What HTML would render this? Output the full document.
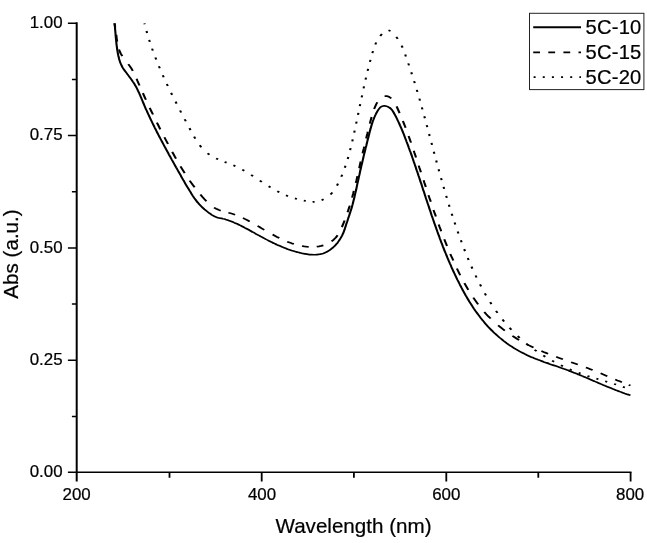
<!DOCTYPE html>
<html lang="en">
<head>
<meta charset="utf-8">
<title>Abs vs Wavelength</title>
<style>
html,body{margin:0;padding:0;background:#fff;}
body{width:647px;height:543px;overflow:hidden;}
svg{display:block;}
text{font-family:"Liberation Sans",Arial,Helvetica,sans-serif;fill:#000;stroke:#000;stroke-width:0.22px;stroke-linejoin:round;}
.axis path{stroke:#000;fill:none;stroke-linecap:butt;}
.axis .v{stroke-width:2;}
.axis .h{stroke-width:1.5;}
.axis .t{stroke-width:1.8;}
.tick text{font-size:16.9px;}
.title{font-size:20.6px;}
.legend text{font-size:20.2px;letter-spacing:0.2px;}
.curve{fill:none;stroke:#000;stroke-width:2.1;stroke-linejoin:round;}
.legend .leg{stroke-width:2;}
.legend .thin{stroke-width:1.7;}
</style>
</head>
<body>
<svg width="647" height="543" viewBox="0 0 647 543">
<rect width="647" height="543" fill="#fff"/>
<g class="axis">
<path class="v" d="M76.7 22.2V481.4"/>
<path class="h" d="M67.9 472.3H631.5"/>
<path class="h" d="M71.9 416.5H76.7M67.9 360.3H76.7M71.9 304.1H76.7M67.9 247.9H76.7M71.9 191.8H76.7M67.9 135.6H76.7M71.9 79.4H76.7M67.9 23.2H76.7"/>
<path class="t" d="M169.5 472.3V477.7M261.7 472.3V481.4M353.9 472.3V477.7M446.3 472.3V481.4M538.3 472.3V477.7M630.6 472.3V481.4"/>
</g>
<g class="tick"><text x="62.6" y="477.3" text-anchor="end">0.00</text><text x="62.6" y="364.9" text-anchor="end">0.25</text><text x="62.6" y="252.6" text-anchor="end">0.50</text><text x="62.6" y="140.2" text-anchor="end">0.75</text><text x="62.6" y="27.8" text-anchor="end">1.00</text><text x="76.6" y="499.7" text-anchor="middle">200</text><text x="262.0" y="499.7" text-anchor="middle">400</text><text x="446.3" y="499.7" text-anchor="middle">600</text><text x="630.1" y="499.7" text-anchor="middle">800</text></g>
<text class="title" x="353.5" y="532.8" text-anchor="middle">Wavelength (nm)</text>
<text class="title" transform="translate(17.5 254) rotate(-90)" text-anchor="middle">Abs (a.u.)</text>
<g transform="scale(1 0.8)">
<path class="curve" d="M114.6 29.1C114.6 29.7 114.8 31.6 114.9 32.9C115 34.1 115.1 35.3 115.1 36.6C115.2 37.8 115.3 39.1 115.4 40.3C115.5 41.6 115.6 42.8 115.6 44.1C115.7 45.3 115.8 46.5 115.9 47.8C116 49 116.1 50.3 116.2 51.5C116.3 52.8 116.4 54 116.5 55.2C116.6 56.5 116.8 57.7 116.9 59C117 60.2 117.2 61.4 117.3 62.7C117.5 63.9 117.7 65.1 117.8 66.4C118 67.6 118.2 68.8 118.4 70C118.7 71.2 118.9 72.5 119.1 73.7C119.4 74.9 119.7 76.1 120 77.3C120.3 78.4 120.7 79.6 121.1 80.7C121.5 81.9 122 83 122.5 84.1C123 85.1 123.6 86.2 124.1 87.2C124.7 88.2 125.3 89.2 125.9 90.2C126.5 91.2 127.1 92.2 127.7 93.2C128.3 94.2 129 95.2 129.5 96.2C130.1 97.2 130.7 98.2 131.3 99.2C131.9 100.2 132.5 101.2 133 102.3C133.6 103.3 134.1 104.4 134.6 105.4C135.1 106.5 135.6 107.6 136.1 108.7C136.6 109.8 137 110.9 137.5 112C137.9 113.1 138.3 114.3 138.8 115.4C139.2 116.5 139.6 117.7 140 118.8C140.4 120 140.8 121.1 141.2 122.3C141.5 123.4 141.9 124.6 142.3 125.7C142.7 126.9 143.1 128 143.5 129.2C143.9 130.3 144.2 131.5 144.6 132.6C145 133.8 145.4 134.9 145.8 136.1C146.3 137.2 146.7 138.4 147.1 139.5C147.5 140.6 147.9 141.8 148.3 142.9C148.7 144 149.2 145.2 149.6 146.3C150 147.4 150.4 148.6 150.9 149.7C151.3 150.8 151.7 151.9 152.2 153.1C152.6 154.2 153 155.3 153.5 156.4C153.9 157.5 154.4 158.7 154.8 159.8C155.3 160.9 155.7 162 156.2 163.1C156.6 164.2 157.1 165.3 157.5 166.5C158 167.6 158.4 168.7 158.9 169.8C159.4 170.9 159.8 172 160.3 173.1C160.8 174.2 161.2 175.3 161.7 176.4C162.2 177.5 162.6 178.6 163.1 179.7C163.6 180.8 164.1 181.9 164.5 183C165 184.1 165.5 185.2 166 186.3C166.4 187.4 166.9 188.5 167.4 189.6C167.9 190.7 168.4 191.8 168.8 192.9C169.3 194 169.8 195.1 170.3 196.2C170.8 197.3 171.3 198.3 171.7 199.4C172.2 200.5 172.7 201.6 173.2 202.7C173.7 203.8 174.2 204.9 174.7 206C175.2 207.1 175.7 208.2 176.1 209.2C176.6 210.3 177.1 211.4 177.6 212.5C178.1 213.6 178.6 214.7 179.1 215.8C179.6 216.9 180.1 218 180.6 219C181 220.1 181.5 221.2 182 222.3C182.5 223.4 183 224.5 183.5 225.6C184 226.6 184.5 227.7 185 228.8C185.5 229.9 186 231 186.5 232C187 233.1 187.6 234.2 188.1 235.2C188.6 236.3 189.1 237.4 189.6 238.4C190.2 239.5 190.7 240.6 191.2 241.6C191.7 242.7 192.3 243.7 192.8 244.8C193.4 245.8 193.9 246.9 194.5 247.9C195.1 248.9 195.7 249.9 196.3 250.9C196.9 251.9 197.5 252.9 198.2 253.8C198.8 254.7 199.5 255.7 200.2 256.6C200.9 257.5 201.6 258.4 202.3 259.2C203.1 260.1 203.8 260.9 204.5 261.7C205.3 262.5 206.1 263.3 206.9 264.1C207.6 264.9 208.4 265.6 209.3 266.4C210.1 267.1 210.9 267.8 211.7 268.5C212.6 269.2 213.4 269.8 214.3 270.4C215.2 270.9 216.1 271.4 217.1 271.8C218 272.2 219 272.4 220 272.7C221 272.9 222 273.1 222.9 273.4C223.9 273.6 224.9 273.9 225.8 274.3C226.8 274.7 227.7 275.1 228.7 275.5C229.6 275.9 230.6 276.4 231.5 276.8C232.4 277.3 233.3 277.8 234.2 278.3C235.2 278.8 236.1 279.3 237 279.8C237.9 280.3 238.8 280.9 239.7 281.4C240.6 282 241.5 282.5 242.4 283.1C243.2 283.7 244.1 284.3 245 284.9C245.9 285.4 246.8 286 247.7 286.6C248.5 287.2 249.4 287.8 250.3 288.4C251.2 289 252 289.6 252.9 290.2C253.8 290.8 254.7 291.4 255.5 292.1C256.4 292.7 257.3 293.3 258.2 293.9C259 294.5 259.9 295.1 260.8 295.7C261.7 296.2 262.5 296.8 263.4 297.4C264.3 298 265.2 298.6 266.1 299.2C267 299.7 267.9 300.3 268.7 300.9C269.6 301.4 270.5 302 271.4 302.6C272.3 303.1 273.2 303.7 274.1 304.2C275 304.7 275.9 305.3 276.8 305.8C277.8 306.3 278.7 306.8 279.6 307.3C280.5 307.8 281.4 308.3 282.3 308.8C283.3 309.2 284.2 309.7 285.1 310.1C286.1 310.6 287 311 287.9 311.5C288.9 311.9 289.8 312.3 290.8 312.7C291.7 313.1 292.7 313.5 293.6 313.8C294.6 314.2 295.5 314.5 296.5 314.9C297.5 315.2 298.4 315.5 299.4 315.8C300.4 316.1 301.3 316.4 302.3 316.7C303.3 316.9 304.3 317.2 305.3 317.4C306.2 317.6 307.2 317.8 308.2 317.9C309.2 318.1 310.2 318.2 311.2 318.3C312.2 318.4 313.2 318.4 314.2 318.4C315.2 318.4 316.2 318.3 317.2 318.2C318.2 318.1 319.2 317.9 320.2 317.7C321.1 317.4 322.1 317.1 323.1 316.8C324 316.4 324.9 315.9 325.9 315.4C326.8 314.9 327.6 314.3 328.5 313.6C329.4 313 330.2 312.3 331 311.5C331.8 310.8 332.5 310 333.3 309.1C334 308.3 334.7 307.4 335.4 306.5C336.1 305.6 336.7 304.6 337.4 303.7C338 302.7 338.6 301.7 339.1 300.6C339.7 299.6 340.2 298.6 340.7 297.5C341.2 296.4 341.7 295.3 342.2 294.2C342.6 293.1 343 291.9 343.4 290.8C343.8 289.6 344.1 288.4 344.5 287.3C344.8 286.1 345.1 284.9 345.4 283.7C345.7 282.5 346 281.3 346.3 280.1C346.6 279 346.9 277.8 347.3 276.6C347.6 275.4 347.9 274.2 348.2 273C348.5 271.8 348.9 270.7 349.2 269.5C349.5 268.3 349.8 267.1 350.1 265.9C350.4 264.7 350.7 263.6 351 262.4C351.3 261.2 351.6 260 351.9 258.8C352.2 257.6 352.4 256.4 352.7 255.2C352.9 253.9 353.2 252.7 353.4 251.5C353.7 250.3 353.9 249.1 354.2 247.9C354.4 246.7 354.6 245.5 354.8 244.2C355.1 243 355.3 241.8 355.5 240.6C355.7 239.4 355.9 238.2 356.2 236.9C356.4 235.7 356.6 234.5 356.8 233.3C357 232.1 357.2 230.8 357.4 229.6C357.6 228.4 357.8 227.2 358.1 225.9C358.3 224.7 358.5 223.5 358.7 222.3C358.9 221.1 359.1 219.8 359.4 218.6C359.6 217.4 359.8 216.2 360 215C360.2 213.8 360.4 212.5 360.7 211.3C360.9 210.1 361.1 208.9 361.3 207.7C361.6 206.5 361.8 205.2 362 204C362.3 202.8 362.5 201.6 362.7 200.4C362.9 199.2 363.2 197.9 363.4 196.7C363.6 195.5 363.9 194.3 364.1 193.1C364.3 191.9 364.6 190.7 364.8 189.4C365.1 188.2 365.3 187 365.5 185.8C365.8 184.6 366 183.4 366.3 182.2C366.5 181 366.7 179.7 367 178.5C367.2 177.3 367.5 176.1 367.7 174.9C367.9 173.7 368.2 172.5 368.4 171.3C368.7 170.1 368.9 168.8 369.2 167.6C369.4 166.4 369.7 165.2 369.9 164C370.2 162.8 370.4 161.6 370.7 160.4C370.9 159.2 371.2 158 371.5 156.8C371.8 155.6 372.1 154.4 372.4 153.2C372.7 152 373 150.8 373.4 149.7C373.7 148.5 374.1 147.3 374.5 146.2C374.9 145 375.3 143.9 375.8 142.8C376.2 141.7 376.7 140.6 377.2 139.5C377.7 138.4 378.2 137.3 378.8 136.4C379.5 135.4 380.1 134.4 380.9 133.7C381.7 133 382.7 132.5 383.7 132.4C384.6 132.2 385.7 132.4 386.6 132.8C387.6 133.1 388.5 133.7 389.3 134.4C390.2 135.1 390.9 136 391.6 136.9C392.2 137.8 392.8 138.9 393.3 140C393.8 141 394.3 142.1 394.8 143.2C395.3 144.3 395.7 145.4 396.2 146.5C396.6 147.6 397.1 148.8 397.5 149.9C397.9 151 398.4 152.1 398.8 153.3C399.2 154.4 399.6 155.5 400 156.7C400.4 157.8 400.8 159 401.2 160.1C401.6 161.3 402 162.4 402.4 163.6C402.8 164.7 403.1 165.9 403.5 167C403.9 168.2 404.2 169.4 404.6 170.5C405 171.7 405.3 172.9 405.7 174C406 175.2 406.4 176.4 406.7 177.5C407.1 178.7 407.4 179.9 407.8 181C408.1 182.2 408.5 183.4 408.8 184.6C409.2 185.7 409.5 186.9 409.8 188.1C410.2 189.3 410.5 190.4 410.9 191.6C411.2 192.8 411.5 194 411.9 195.1C412.2 196.3 412.5 197.5 412.9 198.7C413.2 199.8 413.5 201 413.8 202.2C414.2 203.4 414.5 204.6 414.8 205.8C415.1 206.9 415.5 208.1 415.8 209.3C416.1 210.5 416.4 211.7 416.7 212.8C417.1 214 417.4 215.2 417.7 216.4C418 217.6 418.3 218.8 418.6 220C419 221.1 419.3 222.3 419.6 223.5C419.9 224.7 420.2 225.9 420.5 227.1C420.8 228.3 421.2 229.4 421.5 230.6C421.8 231.8 422.1 233 422.4 234.2C422.7 235.4 423 236.6 423.3 237.7C423.6 238.9 424 240.1 424.3 241.3C424.6 242.5 424.9 243.7 425.2 244.9C425.5 246 425.8 247.2 426.1 248.4C426.5 249.6 426.8 250.8 427.1 252C427.4 253.2 427.7 254.4 428 255.5C428.3 256.7 428.7 257.9 429 259.1C429.3 260.3 429.6 261.5 429.9 262.6C430.2 263.8 430.6 265 430.9 266.2C431.2 267.4 431.5 268.6 431.8 269.7C432.2 270.9 432.5 272.1 432.8 273.3C433.1 274.5 433.5 275.7 433.8 276.8C434.1 278 434.4 279.2 434.8 280.4C435.1 281.6 435.4 282.7 435.8 283.9C436.1 285.1 436.4 286.3 436.8 287.4C437.1 288.6 437.4 289.8 437.8 291C438.1 292.1 438.5 293.3 438.8 294.5C439.2 295.7 439.5 296.8 439.8 298C440.2 299.2 440.5 300.3 440.9 301.5C441.2 302.7 441.6 303.8 442 305C442.3 306.2 442.7 307.3 443 308.5C443.4 309.7 443.8 310.8 444.1 312C444.5 313.1 444.9 314.3 445.3 315.5C445.6 316.6 446 317.8 446.4 318.9C446.8 320.1 447.1 321.2 447.5 322.4C447.9 323.6 448.3 324.7 448.7 325.9C449.1 327 449.5 328.1 449.9 329.3C450.3 330.4 450.7 331.6 451.1 332.7C451.5 333.9 451.9 335 452.3 336.1C452.7 337.3 453.1 338.4 453.5 339.6C454 340.7 454.4 341.8 454.8 342.9C455.2 344.1 455.7 345.2 456.1 346.3C456.5 347.5 457 348.6 457.4 349.7C457.9 350.8 458.3 351.9 458.8 353.1C459.2 354.2 459.7 355.3 460.1 356.4C460.6 357.5 461 358.6 461.5 359.7C462 360.8 462.4 361.9 462.9 363C463.4 364.1 463.9 365.2 464.4 366.3C464.9 367.4 465.3 368.5 465.8 369.6C466.3 370.6 466.8 371.7 467.3 372.8C467.9 373.9 468.4 374.9 468.9 376C469.4 377.1 469.9 378.1 470.5 379.2C471 380.2 471.5 381.3 472.1 382.3C472.6 383.4 473.2 384.4 473.7 385.5C474.3 386.5 474.9 387.5 475.4 388.6C476 389.6 476.6 390.6 477.2 391.6C477.8 392.6 478.4 393.6 479 394.6C479.6 395.6 480.2 396.6 480.8 397.6C481.4 398.6 482 399.5 482.7 400.5C483.3 401.5 483.9 402.4 484.6 403.4C485.2 404.3 485.9 405.3 486.6 406.2C487.2 407.1 487.9 408.1 488.6 409C489.3 409.9 490 410.8 490.7 411.7C491.4 412.6 492.1 413.4 492.8 414.3C493.5 415.2 494.2 416.1 495 416.9C495.7 417.7 496.4 418.6 497.2 419.4C497.9 420.2 498.7 421.1 499.4 421.9C500.2 422.7 501 423.5 501.8 424.2C502.5 425 503.3 425.8 504.1 426.6C504.9 427.3 505.7 428.1 506.5 428.8C507.3 429.5 508.2 430.2 509 431C509.8 431.7 510.6 432.4 511.5 433C512.3 433.7 513.1 434.4 514 435.1C514.8 435.7 515.7 436.4 516.6 437C517.4 437.6 518.3 438.3 519.2 438.9C520 439.5 520.9 440.1 521.8 440.6C522.7 441.2 523.6 441.8 524.5 442.3C525.4 442.9 526.3 443.4 527.2 444C528.1 444.5 529 445 529.9 445.5C530.8 446 531.7 446.5 532.7 447C533.6 447.5 534.5 447.9 535.4 448.4C536.4 448.9 537.3 449.3 538.2 449.8C539.2 450.2 540.1 450.6 541 451.1C542 451.5 542.9 451.9 543.8 452.4C544.8 452.8 545.7 453.2 546.7 453.6C547.6 454 548.5 454.4 549.5 454.9C550.4 455.3 551.4 455.7 552.3 456.1C553.3 456.5 554.2 456.9 555.2 457.3C556.1 457.7 557 458.1 558 458.5C558.9 458.9 559.9 459.3 560.8 459.8C561.8 460.2 562.7 460.6 563.6 461C564.6 461.4 565.5 461.8 566.5 462.3C567.4 462.7 568.3 463.1 569.3 463.6C570.2 464 571.1 464.5 572.1 464.9C573 465.4 573.9 465.8 574.9 466.3C575.8 466.8 576.7 467.2 577.6 467.7C578.6 468.2 579.5 468.7 580.4 469.1C581.3 469.6 582.3 470.1 583.2 470.6C584.1 471.1 585 471.5 585.9 472C586.9 472.5 587.8 473 588.7 473.5C589.6 474 590.5 474.5 591.5 475C592.4 475.5 593.3 476 594.2 476.4C595.1 476.9 596 477.4 597 477.9C597.9 478.4 598.8 478.9 599.7 479.4C600.6 479.9 601.6 480.4 602.5 480.9C603.4 481.3 604.3 481.8 605.2 482.3C606.2 482.8 607.1 483.3 608 483.7C608.9 484.2 609.9 484.7 610.8 485.1C611.7 485.6 612.6 486.1 613.6 486.5C614.5 487 615.4 487.4 616.4 487.9C617.3 488.3 618.2 488.8 619.2 489.2C620.1 489.7 621 490.1 622 490.5C622.9 490.9 623.9 491.4 624.8 491.8C625.8 492.2 626.7 492.6 627.6 493C628.6 493.4 630 493.9 630.5 494.1"/>
<path class="curve" d="M114.5 29.1L115.2 33.6M116.3 43.5L116.5 46.3 116.8 49.1 117.2 51.9M119 61.8L119.8 64.6 120.9 67.4 122.3 70.2M128.3 80.1L130 82.9 131.5 85.7 132.8 88.5M136.6 98.4L137.5 101.2 138.5 104 139.5 106.8M142.9 116.4L143.9 119.2 144.9 122 145.9 124.7M149.7 134.8L150.8 137.6 151.9 140.4 153 143.2M156.9 153.3L158.1 156.1 159.2 158.9 160.3 161.7M164.4 171.6L165.6 174.4 166.8 177.2 168 180M172.2 189.9L173.5 192.7 174.7 195.5 176 198.3M180.5 208L181.9 210.8 183.3 213.6 184.7 216.3M189.7 225.7L191.3 228.5 192.9 231.3 194.6 234.1M200.4 243.2L202.3 246 204.3 248.8 206.4 251.6M214 259.5L216.2 261 218.5 262.3 220.7 263.3M228.4 265.9L230.6 266.6 232.9 267.4 235.1 268.4M243 272.5L245.2 273.9 247.5 275.3 249.7 276.8M257.6 282.4L259.9 284.1 262.1 285.7 264.3 287.3M272.6 293.2L274.8 294.7 277 296.2 279.3 297.6M287.2 302.1L289.5 303.2 291.7 304.2 293.9 305.1M302 307.5L304.2 308 306.4 308.3 308.7 308.5M316.7 308.3L319 307.9 321.2 307.4 323.4 306.7M331.6 301.8L333.8 299.5 335.9 296.8 337.6 294M341.9 283.9L342.8 281.1 343.7 278.3 344.6 275.5M347.6 265.4L348.3 262.6 349.1 259.8 349.8 257M352.1 247.1L352.7 244.3 353.3 241.5 353.8 238.7M355.8 228.6L356.4 225.8 356.9 223 357.4 220.2M359.2 210.3L359.7 207.5 360.2 204.7 360.7 201.9M362.6 191.6L363.1 188.9 363.7 186.1 364.2 183.3M366.2 173.1L366.7 170.3 367.3 167.5 367.8 164.7M369.9 154.6L370.4 151.8 371 149 371.6 146.2M374.1 136.2L375.1 133.4 376.1 130.6 377.3 127.8M384.6 120.1L386.8 120.1 389.1 121.1 391.3 123.1M396.6 133L397.6 135.8 398.6 138.6 399.6 141.4M402.9 151.3L403.8 154.1 404.7 156.9 405.6 159.7M408.6 169.9L409.4 172.7 410.2 175.5 411 178.3M413.8 188.5L414.5 191.2 415.3 194 416 196.8M418.7 207L419.4 209.7 420.2 212.5 420.9 215.3M423.6 225.4L424.3 228.2 425.1 231 425.8 233.8M428.5 243.9L429.2 246.7 430 249.5 430.8 252.3M433.5 262.4L434.3 265.2 435.1 267.9 435.9 270.7M438.7 280.6L439.5 283.4 440.4 286.2 441.2 289M444.3 299L445.2 301.8 446.1 304.6 447 307.4M450.3 317.4L451.3 320.2 452.3 322.9 453.3 325.7M456.9 335.7L458 338.5 459.1 341.2 460.2 344M464.4 353.9L465.7 356.7 467 359.5 468.3 362.3M473.3 372.1L474.9 374.8 476.5 377.6 478.1 380.4M484.3 389.9L486.3 392.7 488.4 395.5 490.7 398.2M498.1 406.7L500.4 409 502.6 411.2 504.8 413.3M512.4 419.9L514.6 421.6 516.9 423.4 519.1 425M526.8 430.3L529 431.7 531.3 433.1 533.5 434.4M541.4 438.8L543.6 440 545.9 441.1 548.1 442.2M556.2 446L558.5 447.1 560.7 448.1 562.9 449.1M571.1 452.7L573.4 453.7 575.6 454.7 577.8 455.7M585.9 459.4L588.1 460.4 590.3 461.5 592.6 462.6M600.6 466.7L602.8 467.8 605 469 607.3 470.2M615.2 474.3L617.4 475.5 619.7 476.6 621.9 477.8M628.7 481.1L630.5 482"/>
<path class="curve" d="M144.5 29.1L144.7 30.3M146.5 38.8L147.1 41.3M149.2 49.8L149.8 52.3M152.1 60.8L152.8 63.3M155.4 71.8L156.2 74.3M158.9 82.8L159.8 85.3M162.8 94L163.7 96.5M166.8 105L167.8 107.5M171.1 116.1L172.1 118.6M175.6 127.1L176.6 129.6M180.1 138.1L181.1 140.6M184.7 149.1L185.8 151.6M189.5 160.1L190.5 162.6M194.1 170.7L195.3 173.2M199.7 181.5L201.3 184M207.5 191.6L209.5 193.4M216.1 198L218.1 199.1M224.6 202.4L226.6 203.3M233.4 206.7L235.4 207.8M242.3 212.1L244.3 213.5M251.1 218.7L253.1 220.2M259.8 225.7L261.8 227.4M268.6 232.8L270.6 234.3M277.3 239.1L279.3 240.4M286 244.2L288 245.2M294.9 248L296.9 248.7M303.8 250.8L305.8 251.3M312.6 252.4L314.6 252.3M321.6 250.2L323.6 249.1M330.5 243.1L332.4 240.7M337 232L338 229.5M341.3 220.9L342.2 218.4M344.8 209.7L345.5 207.2M347.7 198.7L348.3 196.2M350.1 187.7L350.6 185.2M352.3 176.7L352.7 174.2M354.2 165.7L354.7 163.2M356.1 154.6L356.6 152.1M358 143.6L358.4 141.1M359.8 132.6L360.2 130.1M361.7 121.6L362.1 119.1M363.6 110.6L364 108.1M365.6 99.5L366 97M367.6 88.5L368.1 86M369.9 77.4L370.5 74.9M372.4 66.4L373 63.9M375.3 55.7L376.2 53.2M380.2 44.9L381.9 42.4M388.5 37.9L390.5 38.7M396.3 46.2L397.7 48.7M401.6 57L402.6 59.5M405.2 68.1L405.9 70.6M408.3 79.2L409 81.7M411.3 90.3L411.9 92.8M414.1 101.4L414.8 103.9M416.8 112.4L417.4 114.9M419.4 123.3L420 125.8M421.9 134.2L422.4 136.7M424.3 145.4L424.9 147.9M426.7 156.4L427.3 158.9M429.1 167.5L429.6 170M431.5 178.6L432 181.1M433.8 189.7L434.4 192.2M436.2 200.6L436.7 203.1M438.6 211.6L439.1 214.1M441.1 222.6L441.6 225.1M443.6 233.7L444.1 236.2M446.2 244.8L446.8 247.3M448.9 255.9L449.5 258.4M451.7 267.1L452.4 269.6M454.6 278.2L455.3 280.7M457.7 289.3L458.4 291.8M460.9 300.4L461.6 302.9M464.2 311.4L465 313.9M467.8 322.5L468.6 325M471.5 333.3L472.4 335.8M475.6 344.4L476.5 346.9M480 355.5L481.1 358M484.8 366.6L486 369.1M490.2 377.7L491.4 380.2M496 388.6L497.5 391.1M502.5 399.3L504.1 401.8M509.6 409.7L511.4 412.2M517.7 420.1L519.7 422.4M526.2 429.4L528.2 431.3M534.6 437.3L536.6 439M543.3 444.4L545.3 445.9M552.1 450.8L554.1 452.2M560.9 456.6L562.9 457.8M569.7 461.7L571.7 462.7M578.6 466.1L580.6 467M587.5 470L589.5 470.8M596.4 473.3L598.4 474.1M605.2 476.6L607.2 477.3M614.1 479.9L616.1 480.7M622.9 483.6L624.9 484.5"/>
</g>
<g class="legend">
<rect x="529.5" y="13.3" width="114.4" height="76.3" fill="#fff" stroke="#222" stroke-width="1"/>
<path class="curve leg" d="M533.2 27.2H581"/>
<path class="curve thin" stroke-dasharray="6.8 8.3" d="M533.2 52.3H581"/>
<path class="curve thin" stroke-dasharray="2 7.15" stroke-dashoffset="-0.6" d="M533 77.2H581"/>
<text x="585.5" y="34.1">5C-10</text>
<text x="585.5" y="59.2">5C-15</text>
<text x="585.5" y="84.1">5C-20</text>
</g>
</svg>
</body>
</html>
